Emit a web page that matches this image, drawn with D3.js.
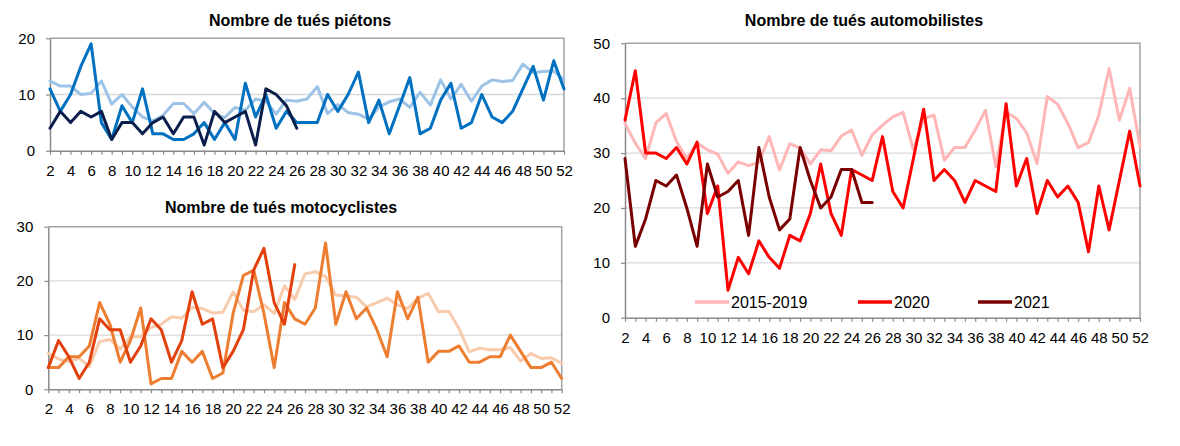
<!DOCTYPE html>
<html><head><meta charset="utf-8">
<script src="https://cdn.jsdelivr.net/npm/d3@7"></script>
<style>
body{margin:0;background:#fff;}
svg{display:block;font-family:"Liberation Sans",Arial,sans-serif;}
</style></head><body>
<svg id="c" width="1180" height="446"></svg>
<script>
// ---- Data ----
const weeks = [2,3,4,5,6,7,8,9,10,11,12,13,14,15,16,17,18,19,20,21,22,23,24,25,26,27,28,29,30,31,32,33,34,35,36,37,38,39,40,41,42,43,44,45,46,47,48,49,50,51,52];
const seriesNames = ["2015-2019", "2020", "2021"];

const pietons1519 = [12.4,11.5,11.5,10,10.2,12.4,8.3,10,7.8,6,5.3,6.3,8.4,8.4,6.6,8.6,6.6,5.9,7.7,7.2,9.2,8.8,6.5,9,8.8,9.2,11.4,6.6,8.2,6.8,6.5,5.6,7.8,8.7,9.2,7.7,10.4,8.1,12.6,9.2,11.8,8.8,11.5,12.6,12.3,12.5,15.4,13.9,14.1,14.2,12.6];
const pietons2020 = [11,7,10,15,19,5,2,8,5,11,3,3,2,2,3,5,2,5,2,12,6,10,4,7,5,5,5,10,7,10,14,5,9,3,8,13,3,4,9,12,4,5,10,6,5,7,11,15,9,16,11];
const pietons2021 = [4,7,5,7,6,7,2,5,5,3,5,6,3,6,6,1,7,5,6,7,1,11,10,8,4];

const motos1519 = [6.6,5.6,5.1,5.7,4.2,8.8,9.2,7.4,9.7,9.7,11.4,12,13.4,13.1,15.1,14.9,14.1,14.2,18,14.6,14.3,15.6,14,19.1,16.6,21.3,21.7,20.8,17.4,17.2,17,15.2,16,16.8,15.6,14.9,16.8,17.7,14.3,14.4,11.2,6.9,7.6,7.3,7.3,7.7,5.2,6.6,5.7,5.8,4.8];
const motos2020 = [4,4,6,6,8,16,12,5,9,15,1,2,2,7,5,7,2,3,14,21,22,14,4,16,13,12,15,27,12,18,13,15,11,6,18,13,17,5,7,7,8,5,5,6,6,10,7,4,4,5,2];
const motos2021 = [4,9,6,2,5,13,11,11,5,8,13,11,5,9,18,12,13,4,7,11,22,26,16,12,23];

const autos1519 = [35.4,31.8,29,35.5,37.2,32.1,29,31.8,30.6,29.8,26.3,28.4,27.7,28.3,33,26.9,31.7,30.9,28,30.6,30.4,33.1,34.2,29.6,33.3,35.1,36.6,37.4,30.6,36.3,36.9,28.7,31,31,34.2,37.8,27.5,37.5,36.3,33.7,28.1,40.3,38.9,35.4,31,31.9,36.9,45.4,36,41.8,31.2];
const autos2020 = [36,45,30,30,29,31,28,32,19,24,5,11,8,14,11,9,15,14,19,28,19,15,27,26,25,33,23,20,29,38,25,27,25,21,25,24,23,39,24,29,19,25,22,24,21,12,24,16,25,34,24];
const autos2021 = [29,13,18,25,24,26,20,13,28,22,23,25,15,31,22,16,18,31,25,20,22,27,27,21,21];

const pietonsTicks = [0,10,20];
const motosTicks = [0,10,20,30];
const autosTicks = [0,10,20,30,40,50];

// ---- Drawing ----
const svg = d3.select("#c");

function drawChart(o) {
  const g = svg.append("g");
  const x = d3.scalePoint().domain(weeks).range([o.left, o.right]);
  const y = d3.scaleLinear().domain([0, o.max]).range([o.bottom, o.top]);

  g.selectAll("line.grid").data(o.ticks.filter(v => v > 0 && v < o.max)).join("line")
    .attr("class","grid")
    .attr("x1", o.left).attr("x2", o.right)
    .attr("y1", d => y(d)).attr("y2", d => y(d))
    .attr("stroke", "#d9d9d9").attr("stroke-width", 1.3);

  g.append("path")
    .attr("d", `M${o.left},${y(o.max)}H${o.right}V${o.bottom}`)
    .attr("fill", "none").attr("stroke", "#a3a3a3").attr("stroke-width", 1.5);

  const xa = d3.axisBottom(x).tickSize(4).tickSizeOuter(0).tickPadding(10.5)
    .tickFormat(d => d % 2 === 0 ? d : "");
  const gx = g.append("g").attr("transform", `translate(0,${o.bottom})`).call(xa);
  const ya = d3.axisLeft(y).tickValues(o.ticks).tickSize(4).tickSizeOuter(0).tickPadding(11);
  const gy = g.append("g").attr("transform", `translate(${o.left},0)`).call(ya);
  [gx, gy].forEach(a => {
    a.select(".domain").attr("stroke", "#8a8a8a").attr("stroke-width", 1.5);
    a.selectAll(".tick line").attr("stroke", "#8a8a8a").attr("stroke-width", 1.2);
    a.selectAll(".tick text").attr("fill", "#000").style("font-size", "15px")
      .style("font-family", '"Liberation Sans",Arial,sans-serif');
  });

  const line = d3.line().x((d, i) => x(weeks[i])).y(d => y(d));
  o.series.forEach((s, k) => {
    g.append("path").datum(s).attr("d", line)
      .attr("fill", "none").attr("stroke", o.colors[k]).attr("stroke-width", 3)
      .attr("stroke-linejoin", "round").attr("stroke-linecap", "round");
  });

  g.append("text").attr("x", o.titleX).attr("y", o.titleY)
    .attr("text-anchor", "middle").style("font-size", "16px").style("font-weight", "bold")
    .text(o.title);
  return {x, y};
}

drawChart({
  left: 50, right: 564, top: 38.3, bottom: 150.7, max: 20, ticks: pietonsTicks,
  series: [pietons1519, pietons2020, pietons2021],
  colors: ["#9dc3e6", "#0070c0", "#0c1f4c"],
  title: "Nombre de tués piétons", titleX: 300, titleY: 26
});

drawChart({
  left: 48.3, right: 561.7, top: 226.7, bottom: 389.3, max: 30, ticks: motosTicks,
  series: [motos1519, motos2020, motos2021],
  colors: ["#f8cbad", "#ed7d31", "#e2400c"],
  title: "Nombre de tués motocyclistes", titleX: 281, titleY: 213
});

const autoColors = ["#ffb6b6", "#ff0000", "#7a0000"];
drawChart({
  left: 625, right: 1140, top: 43.3, bottom: 317.7, max: 50, ticks: autosTicks,
  series: [autos1519, autos2020, autos2021],
  colors: autoColors,
  title: "Nombre de tués automobilistes", titleX: 864, titleY: 26
});

// legend
const legendX = [695, 858, 978];
const lg = svg.append("g");
seriesNames.forEach((n, i) => {
  lg.append("line").attr("x1", legendX[i]).attr("x2", legendX[i] + 34)
    .attr("y1", 302).attr("y2", 302).attr("stroke", autoColors[i]).attr("stroke-width", 3.5);
  lg.append("text").attr("x", legendX[i] + 36).attr("y", 308)
    .style("font-size", "16px").attr("fill", "#000").text(n);
});
</script>
</body></html>
